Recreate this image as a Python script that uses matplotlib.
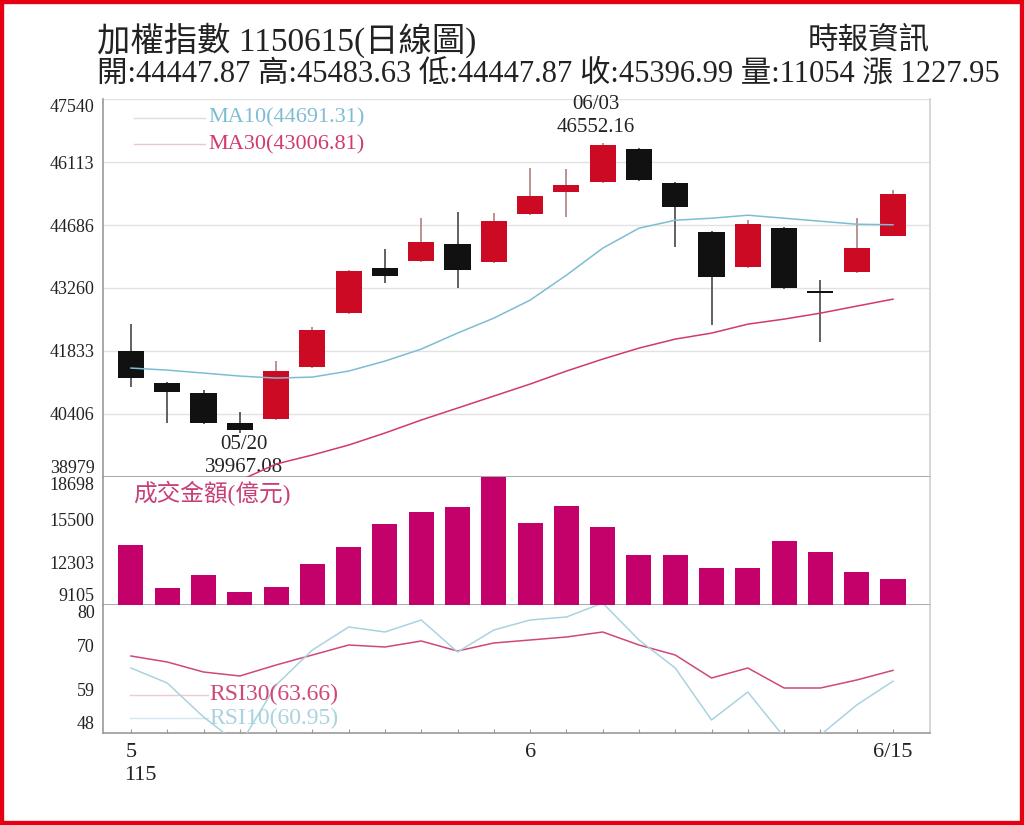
import matplotlib
matplotlib.use("Agg")
import matplotlib.pyplot as plt
from matplotlib.patches import Rectangle
import numpy as np

plt.rcParams['font.family'] = ['Liberation Serif', 'Noto Sans CJK TC', 'DejaVu Sans']

# ---------------- data ----------------
dates = ['05/15', '05/18', '05/19', '05/20', '05/21', '05/22', '05/25', '05/26',
         '05/27', '05/28', '05/29', '06/01', '06/02', '06/03', '06/04', '06/05',
         '06/08', '06/09', '06/10', '06/11', '06/12', '06/15']
opens = [41830, 41106, 40880, 40201, 40292, 41468, 42690, 43709, 43867, 44252, 43844,
         44931, 45429, 45655, 46402, 45632, 44523, 43731, 44614, 43166, 43618, 44447.87]
highs = [42441, 41120, 40948, 40450, 41604, 42374, 43660, 44139, 44840, 44976, 44953,
         45972, 45949, 46552.16, 46440, 45650, 44540, 44795, 44640, 43437, 44840, 45483.63]
lows = [41016, 40201, 40180, 39967.08, 40280, 41440, 42680, 43369, 43850, 43256, 43830,
        44920, 44863, 45640, 45690, 44184, 42419, 43720, 43240, 42034, 43600, 44447.87]
closes = [41219, 40903, 40201, 40043, 41378, 42306, 43641, 43528, 44297, 43663, 44772,
          45338, 45587, 46492, 45700, 45089, 43505, 44704, 43256, 43143, 44169.04, 45396.99]
ma10 = [41446, 41400, 41333, 41265, 41219, 41242, 41378, 41604, 41876, 42238, 42577,
        42985, 43550, 44161, 44614, 44795, 44840, 44908, 44840, 44772, 44704, 44691.31]
ma30 = [np.nan, np.nan, np.nan, 38900, 39273, 39477, 39703, 39975, 40269, 40540, 40812,
        41084, 41378, 41649, 41898, 42102, 42238, 42441, 42555, 42690, 42849, 43006.81]
volume = [13607, 10360, 11319, 10064, 10433, 12205, 13459, 15157, 16042, 16485, 18698,
          15230, 16559, 14935, 12869, 12869, 11909, 11909, 13902, 13090, 11614, 11054]
rsi30 = [67.25, 65.75, 63.25, 62.25, 65.0, 67.5, 70.0, 69.5, 71.0, 68.5, 70.5,
         71.25, 72.0, 73.25, 70.0, 67.5, 61.75, 64.25, 59.25, 59.25, 61.25, 63.66]
rsi10 = [64.25, 60.5, 52.0, 45.0, 60.0, 68.75, 74.5, 73.25, 76.25, 68.25, 73.75,
         76.25, 77.0, 80.5, 71.25, 64.25, 51.25, 58.25, 47.0, 47.5, 55.0, 60.95]

price_ticks = [38979, 40406, 41833, 43260, 44686, 46113, 47540]
vol_ticks = [9105, 12303, 15500, 18698]
rsi_ticks = [48, 59, 70, 80]

title = '加權指數 1150615(日線圖)'
subtitle = '開:44447.87 高:45483.63 低:44447.87 收:45396.99 量:11054 漲 1227.95'
source = '時報資訊'
year_label = '115'

# ---------------- styles ----------------
RED = '#cc0a24'
BLACK = '#111111'
VOLC = '#c4006a'
MA10C = '#7dbdd3'
MA30C = '#d23a6a'
RSI30C = '#d0487a'
RSI10C = '#a9d3e0'
TXT = '#222222'
TICKFONT = 13

fig = plt.figure(figsize=(10.24, 8.25), dpi=100)
fig.patch.set_facecolor('white')

L, W = 103 / 1024, (930 - 103) / 1024
def fy(y):
    return 1 - y / 825

ax1 = fig.add_axes([L, fy(477), W, (477 - 99) / 825])
ax2 = fig.add_axes([L, fy(605), W, (605 - 477) / 825], sharex=ax1)
ax3 = fig.add_axes([L, fy(733), W, (733 - 605) / 825], sharex=ax1)

x = np.arange(len(dates))
o = np.array(opens); c = np.array(closes); h = np.array(highs); lo = np.array(lows)
up = c >= o
cols = np.where(up, RED, BLACK)
wcols = np.where(up, '#b58a8a', '#555555')

# candles
ax1.vlines(x, lo, h, colors=wcols, linewidth=1.3, zorder=2)
body_bottom = np.minimum(o, c)
body_h = np.maximum(np.abs(c - o), 45)
ax1.bar(x, body_h, bottom=body_bottom, width=0.72, color=cols, zorder=3)
ax1.plot(x, ma10, color=MA10C, linewidth=1.1, zorder=4)
ax1.plot(x, ma30, color=MA30C, linewidth=1.1, zorder=4)

ax1.set_xlim(-0.77, 22.02)
ax1.set_ylim(38979, 47540)
ax1.set_yticks(price_ticks)
ax1.set_yticklabels([str(v) for v in price_ticks])
ax1.grid(axis='y', color='#e2e2e2', linewidth=1.0, zorder=0)

# legends for MA
tr1 = ax1.transAxes
ax1.plot([0.038, 0.123], [0.95, 0.95], transform=tr1, color='#dddddd', lw=1.0)
ax1.plot([0.038, 0.123], [0.88, 0.88], transform=tr1, color='#e8c8d0', lw=1.0)
ax1.text(0.127, 0.95, 'MA10(44691.31)', transform=tr1, color=MA10C, fontsize=16,
         va='center', ha='left')
ax1.text(0.127, 0.88, 'MA30(43006.81)', transform=tr1, color=MA30C, fontsize=16,
         va='center', ha='left')

# annotations
imax = int(np.argmax(h)); imin = int(np.argmin(lo))
ax1.annotate(f'{dates[imax]}\n{h[imax]:.2f}', xy=(x[imax], h[imax]), xytext=(-5, 4),
             textcoords='offset points', ha='center', va='bottom', fontsize=15,
             color=TXT, linespacing=1.3, annotation_clip=False)
ax1.annotate(f'{dates[imin]}\n{lo[imin]:.2f}', xy=(x[imin], lo[imin]), xytext=(3, -1),
             textcoords='offset points', ha='center', va='top', fontsize=15,
             color=TXT, linespacing=1.3, annotation_clip=False)

# volume
ax2.bar(x, volume, width=0.69, color=VOLC, zorder=3)
ax2.set_ylim(9105, 18698)
ax2.set_yticks(vol_ticks)
ax2.set_yticklabels([str(v) for v in vol_ticks])
ax2.text(0.037, 0.87, '成交金額(億元)', transform=ax2.transAxes, color='#c8407a',
         fontsize=17, va='center', ha='left')

# rsi
ax3.plot(x, rsi30, color=RSI30C, linewidth=1.1, zorder=3)
ax3.plot(x, rsi10, color=RSI10C, linewidth=1.1, zorder=3)
ax3.set_ylim(48, 80)
ax3.set_yticks(rsi_ticks)
ax3.set_yticklabels([str(v) for v in rsi_ticks])
tr3 = ax3.transAxes
ax3.plot([0.033, 0.127], [0.30, 0.30], transform=tr3, color='#eecad4', lw=1.0, zorder=2)
ax3.plot([0.033, 0.127], [0.115, 0.115], transform=tr3, color='#cfe6ee', lw=1.0, zorder=2)
ax3.text(0.129, 0.30, 'RSI30(63.66)', transform=tr3, color=RSI30C, fontsize=17,
         va='center', ha='left', zorder=5)
ax3.text(0.129, 0.115, 'RSI10(60.95)', transform=tr3, color=RSI10C, fontsize=17,
         va='center', ha='left', zorder=5)

# x ticks
ax3.set_xticks(x)
xl = [''] * len(x)
xl[0] = '5'
xl[11] = '6'
xl[-1] = '6/15'
ax3.set_xticklabels(xl)
ax3.tick_params(axis='x', direction='in', length=3, color='#999999', labelsize=16,
                pad=7, labelcolor=TXT)
ax3.annotate(year_label, xy=(x[0], 48), xytext=(-5, -24), textcoords='offset points',
             ha='left', va='top', fontsize=16, color=TXT, annotation_clip=False)
for a in (ax1, ax2):
    a.tick_params(axis='x', which='both', bottom=False, labelbottom=False)

for a in (ax1, ax2, ax3):
    a.tick_params(axis='y', length=0, labelsize=TICKFONT, pad=6, labelcolor=TXT)
    a.set_facecolor('white')
    for s in ('left', 'bottom'):
        a.spines[s].set_color('#9a9a9a')
        a.spines[s].set_linewidth(1.2)
    a.spines['right'].set_color('#d0d0d0')
    a.spines['right'].set_linewidth(1.2)
    a.spines['top'].set_visible(False)

# shift end labels inside their panels
for a in (ax1, ax2, ax3):
    labs = a.get_yticklabels()
    labs[0].set_va('bottom')
    labs[-1].set_va('top')

# titles
fig.text(97 / 1024, fy(40), title, fontsize=24, color=TXT, va='center', ha='left')
fig.text(97 / 1024, fy(74), subtitle, fontsize=22, color=TXT, va='center', ha='left')
fig.text(930 / 1024, fy(42), source, fontsize=22, color=TXT, va='center', ha='right')

# red frame
fig.patches.append(Rectangle((0, 0), 1, 1, transform=fig.transFigure, fill=False,
                             edgecolor='#e60012', linewidth=6, zorder=10))

fig.savefig('out.png', dpi=100, facecolor='white')
